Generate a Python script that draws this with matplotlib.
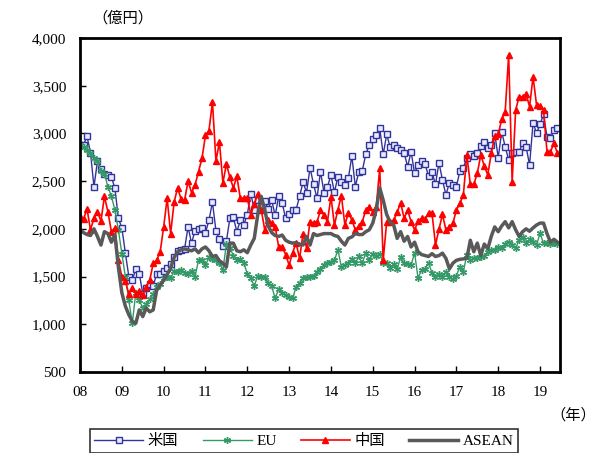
import matplotlib
matplotlib.use("Agg")
import matplotlib.pyplot as plt
from matplotlib.ticker import FuncFormatter

plt.rcParams['font.family'] = ['Liberation Serif', 'Noto Sans CJK JP']

# monthly values, Jan 2008 - Jun 2019 (億円)
us = [2880, 2880, 2970, 2800, 2440, 2710, 2630, 2580, 2560, 2540, 2430, 2110,
      2010, 1750, 1500, 1460, 1580, 1530, 1320, 1380, 1420, 1400, 1530, 1530,
      1560, 1590, 1630, 1700, 1770, 1780, 1790, 2020, 1850, 1980, 2000, 2010,
      1960, 2090, 2280, 1980, 1890, 1820, 1870, 2110, 2120, 1970, 2090, 2040,
      2150, 2370, 2200, 2300, 2250, 2290, 2210, 2300, 2140, 2340, 2270, 2110,
      2160, 2200, 2200, 2340, 2490, 2380, 2640, 2470, 2320, 2600, 2380, 2440,
      2564, 2383, 2547, 2494, 2460, 2530, 2763, 2442, 2599, 2610, 2781, 2879,
      2938, 2983, 3054, 2781, 2990, 2854, 2879, 2844, 2826, 2798, 2651, 2809,
      2582, 2669, 2711, 2676, 2557, 2593, 2467, 2693, 2512, 2355, 2484, 2460,
      2442, 2606, 2641, 2746, 2781, 2763, 2798, 2868, 2913, 2850, 2879, 3001,
      2746, 3018, 2861, 2722, 2792, 2809, 2809, 2896, 2861, 2669, 3112, 3001,
      3096, 3200, 2966, 2949, 3036, 3054]

eu = [2880, 2860, 2830, 2790, 2740, 2710, 2610, 2580, 2440, 2340, 2200, 1990,
      1740, 1500, 1250, 1010, 1330, 1250, 1170, 1210, 1260, 1320, 1390, 1420,
      1480, 1500, 1480, 1560, 1545, 1570, 1540, 1530, 1560, 1500, 1670, 1670,
      1620, 1700, 1680, 1670, 1640, 1570, 1840, 1800, 1720, 1670, 1680, 1640,
      1530, 1480, 1400, 1510, 1500, 1500, 1430, 1400, 1270, 1370, 1330, 1310,
      1290, 1270, 1390, 1430, 1480, 1500, 1500, 1510, 1550, 1580, 1620, 1640,
      1656, 1670, 1780, 1600, 1620, 1640, 1680, 1640, 1710, 1640, 1750, 1670,
      1740, 1710, 1740, 1640, 1645, 1590, 1630, 1580, 1700, 1640, 1630, 1620,
      1750, 1480, 1570, 1580, 1640, 1540, 1500, 1530, 1500, 1550, 1490, 1470,
      1510, 1600, 1550, 1730, 1670, 1690, 1690, 1700, 1720, 1760, 1780, 1780,
      1813, 1796, 1838, 1865, 1831, 1796, 1883, 1918, 1848, 1890, 1860, 1831,
      1953, 1848, 1848, 1838, 1855, 1838]

china = [2130, 2100, 2210, 1990, 2110, 2180, 2080, 2340, 2180, 1970, 2010, 1670,
         1500, 1450, 1320, 1380, 1320, 1350, 1310, 1390, 1460, 1640, 1670, 1760,
         2020, 2320, 1950, 2280, 2430, 2310, 2300, 2500, 2380, 2460, 2600, 2740,
         2980, 3030, 3330, 2710, 2910, 2480, 2680, 2540, 2430, 2550, 2320, 2320,
         2320, 2150, 2260, 2370, 2200, 1990, 2090, 2060, 2020, 1810, 1810, 1730,
         1620, 1750, 1850, 1690, 1950, 1800, 2075, 2065, 2069, 2197, 2145, 2075,
         2337, 2040, 2200, 2348, 2040, 2170, 2093, 1988, 2030, 2075, 2197, 2232,
         2180, 2230, 2634, 1673, 2075, 2075, 2093, 2173, 2274, 2110, 2197, 2075,
         1988, 2082, 2110, 2100, 2170, 2163, 1831, 1995, 2152, 1988, 2023, 2058,
         2197, 2268, 2355, 2774, 2467, 2467, 2582, 2774, 2660, 2564, 2792, 2973,
         2990, 3148, 3228, 3822, 2494, 3245, 3385, 3385, 3413, 3280, 3594, 3298,
         3287, 3245, 2809, 2809, 2896, 2792]

asean = [1990, 1960, 1940, 1930, 2000, 1920, 1830, 1970, 1950, 1860, 1940, 1600,
         1330, 1190, 1100, 1030, 1010, 1150, 1080, 1170, 1130, 1150, 1360, 1410,
         1460, 1520, 1590, 1700, 1760, 1780, 1790, 1780, 1770, 1790, 1750, 1790,
         1810, 1770, 1710, 1720, 1665, 1640, 1600, 1850, 1850, 1770, 1760, 1780,
         1750, 1830, 1900, 2150, 2340, 2200, 2030, 1960, 1930, 1920, 1935, 1880,
         1860, 1850, 1855, 1840, 1830, 1920, 1830, 1950, 1930, 1940, 1950, 1950,
         1950, 1930, 1920, 1870, 1830, 1900, 1915, 1950, 1940, 1940, 1970, 1990,
         2060, 2200, 2430, 2300, 2150, 2070, 2040, 1900, 1970, 1870, 1920, 1810,
         1860, 1760, 1730, 1720, 1710, 1740, 1710, 1720, 1745, 1690, 1580, 1640,
         1670, 1680, 1685, 1690, 1880, 1760, 1850, 1720, 1840, 1790, 1920, 2020,
         1970, 2030, 2075, 2010, 2075, 1990, 1920, 1970, 2000, 1975, 2010, 2040,
         2060, 2060, 1950, 1860, 1890, 1860]

year_labels = ["08", "09", "10", "11", "12", "13", "14", "15", "16", "17", "18", "19"]

months = list(range(len(us)))

fig = plt.figure(figsize=(5.95, 4.53), dpi=100)
ax = fig.add_axes([0.1345, 0.179, 0.8065, 0.737])

ax.plot(months, us, color="#333399", lw=1.0, marker="s", ms=4,
        mfc="#e6ecff", mec="#333399", mew=1.0, label="米国")
ax.plot(months, eu, color="#339966", lw=1.0, marker=(6, 2, 0), ms=5,
        mec="#339966", mew=1.0, label="EU")
ax.plot(months, china, color="#ff0000", lw=1.2, marker="^", ms=5,
        mfc="#ff0000", mec="#ff0000", label="中国")
ax.plot(months, asean, color="#595959", lw=2.5, label="ASEAN")

ax.set_ylim(500, 4000)
ax.set_yticks(range(500, 4001, 500))
ax.yaxis.set_major_formatter(FuncFormatter(lambda v, p: f"{int(v):,}"))
ax.set_xlim(0, 137.7)
ax.set_xticks(range(0, 12 * len(year_labels), 12))
ax.set_xticklabels(year_labels)

ax.tick_params(axis="y", direction="in", length=4, width=1, labelsize=11, pad=10)
ax.tick_params(axis="x", direction="in", length=4, width=1, labelsize=11, pad=10)
ax.tick_params(right=False, top=False)
for s in ax.spines.values():
    s.set_linewidth(2)

fig.text(0.155, 0.96, "（億円）", fontsize=11, ha="left", va="center")
fig.text(0.925, 0.083, "（年）", fontsize=11, ha="left", va="center")

leg = fig.legend(loc="upper center", bbox_to_anchor=(0.511, 0.069), ncol=4,
                 frameon=True, fancybox=False, fontsize=11, handlelength=3.2,
                 columnspacing=1.6, handletextpad=0.3, borderpad=0.3)
leg.get_frame().set_edgecolor("black")
leg.get_frame().set_linewidth(1.2)

fig.savefig("out.png", dpi=100)
